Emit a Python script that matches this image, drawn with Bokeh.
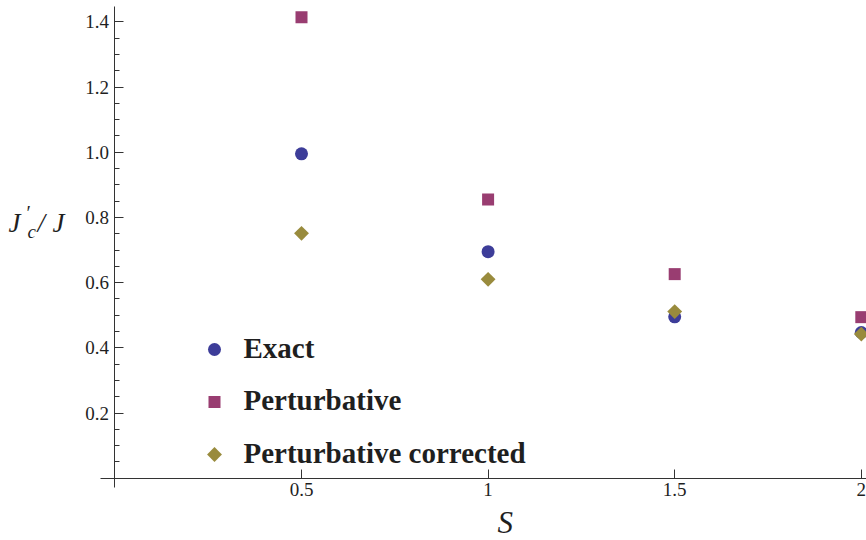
import numpy as np
from bokeh.plotting import figure
from bokeh.models import Range1d, FixedTicker, Label, PrintfTickFormatter
from bokeh.core.properties import value
from bokeh.embed import file_html
from bokeh.resources import INLINE

# Critical coupling J'_c/J versus spin S
spins = [0.5, 1.0, 1.5, 2.0]
exact = [0.995, 0.695, 0.495, 0.447]
perturbative = [1.414, 0.855, 0.626, 0.494]
perturbative_corrected = [0.751, 0.610, 0.511, 0.442]

series_names = ["Exact", "Perturbative", "Perturbative corrected"]
x_ticks = [0.5, 1.0, 1.5, 2.0]
x_tick_labels = ["0.5", "1", "1.5", "2"]
y_ticks = [0.2, 0.4, 0.6, 0.8, 1.0, 1.2, 1.4]

BLUE = "#3d3d99"
PURPLE = "#993d71"
OLIVE = "#998b3d"
AXIS = "#333333"
INK = "#1f1f1f"
SERIF = "Liberation Serif"

W, H = 866, 540
# pixel placement of the origin and pixels per unit on each axis
OX, OY = 114.4, 477.7
KX, KY = 373.2, 326.0
# Bokeh draws an "alphabetic" baseline a little below the anchor; compensate
BASE_SHIFT = 10


def px_x(sx):
    return (sx - OX) / KX


def px_y(sy):
    return (OY - sy) / KY


def base_y(sy):
    return px_y(sy - BASE_SHIFT)


p = figure(width=W, height=H, output_backend="svg", toolbar_location=None,
           x_range=Range1d(px_x(0), px_x(W)), y_range=Range1d(px_y(H), px_y(0)),
           min_border=0)
p.outline_line_color = None
p.grid.visible = False

marker_styles = [
    dict(marker="circle", size=13, angle=0.0, color=BLUE),
    dict(marker="square", size=12, angle=0.0, color=PURPLE),
    dict(marker="square", size=10.5, angle=np.pi / 4, color=OLIVE),
]
for ys, st in zip([exact, perturbative, perturbative_corrected], marker_styles):
    p.scatter(spins, ys, marker=st["marker"], size=st["size"], angle=st["angle"],
              fill_color=st["color"], line_color=None)

# axes crossing at the origin
xa = p.xaxis[0]
xa.fixed_location = 0
xa.bounds = (px_x(100), px_x(W + 5))
xa.ticker = FixedTicker(ticks=x_ticks, minor_ticks=[])
xa.major_label_overrides = {t: l for t, l in zip(x_ticks, x_tick_labels)}
xa.major_tick_in = 9
xa.major_tick_out = 0
xa.minor_tick_in = 0
xa.minor_tick_out = 0
xa.axis_line_color = AXIS
xa.major_tick_line_color = AXIS
xa.major_label_text_font = SERIF
xa.major_label_text_font_size = "19px"
xa.major_label_text_color = INK
xa.major_label_standoff = 5

minor = [round(0.05 * i, 2) for i in range(0, 29) if i % 4 != 0]
ya = p.yaxis[0]
ya.fixed_location = 0
ya.bounds = (px_y(487), px_y(6))
ya.ticker = FixedTicker(ticks=y_ticks, minor_ticks=minor)
ya.formatter = PrintfTickFormatter(format="%.1f")
ya.major_tick_in = 9
ya.major_tick_out = 0
ya.minor_tick_in = 5
ya.minor_tick_out = 0
ya.axis_line_color = AXIS
ya.major_tick_line_color = AXIS
ya.minor_tick_line_color = AXIS
ya.major_label_text_font = SERIF
ya.major_label_text_font_size = "19px"
ya.major_label_text_color = INK
ya.major_label_standoff = 6

# axis titles
title_style = dict(text_font=SERIF, text_font_style="italic",
                   text_color=INK, text_baseline="alphabetic")
p.add_layout(Label(x=px_x(497), y=base_y(532), text="S", text_font_size="31px",
                   **title_style))
p.add_layout(Label(x=px_x(8), y=base_y(232), text="J", text_font_size="27px",
                   **title_style))
p.add_layout(Label(x=px_x(26), y=base_y(222), text="\u2032", text_font_size="20px",
                   text_font=SERIF, text_color=INK, text_baseline="alphabetic"))
p.add_layout(Label(x=px_x(27), y=base_y(241), text="c", text_font_size="19px",
                   **title_style))
p.add_layout(Label(x=px_x(37), y=base_y(232), text="/", text_font_size="27px",
                   **title_style))
p.add_layout(Label(x=px_x(52), y=base_y(232), text="J", text_font_size="27px",
                   **title_style))

# legend: keys in a column at the lower left
LEG_X, LEG_Y0, LEG_DY, LEG_GAP = 214, 349, 52.5, 29
for i, (name, st) in enumerate(zip(series_names, marker_styles)):
    ky = LEG_Y0 + i * LEG_DY
    p.scatter([px_x(LEG_X)], [px_y(ky)], marker=st["marker"], size=st["size"],
              angle=st["angle"], fill_color=st["color"], line_color=None)
    p.text([px_x(LEG_X + LEG_GAP)], [base_y(ky + 8)], text=[name],
           text_font=value(SERIF), text_font_style="bold",
           text_font_size="29px", text_color=INK,
           text_baseline="alphabetic", text_align="left")

open("out.html", "w").write(file_html(p, INLINE))
